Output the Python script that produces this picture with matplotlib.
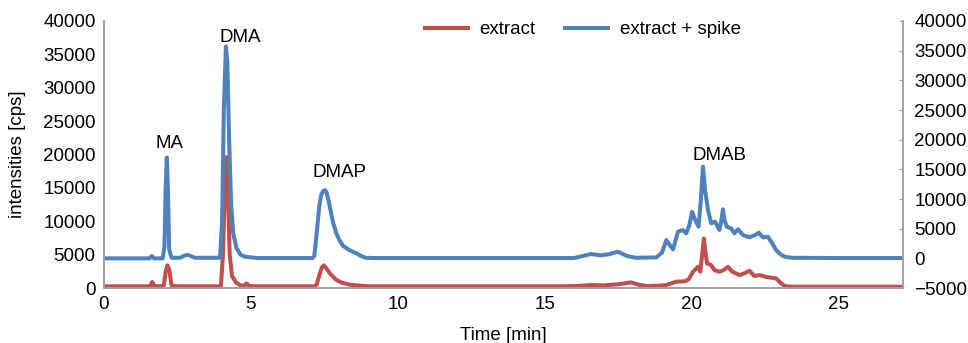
import matplotlib.pyplot as plt

plt.rcParams['font.family'] = ['Liberation Sans', 'DejaVu Sans']

# extract (left axis)
t_extract = [0, 1.5, 1.58, 1.64, 1.72, 1.9, 2.04, 2.1, 2.16, 2.22, 2.3, 2.45,
             3.98, 4.05, 4.12, 4.17, 4.22, 4.28, 4.36, 4.5, 4.65, 4.78, 4.85, 4.93, 5.1,
             7.15, 7.24, 7.35, 7.42, 7.48, 7.56, 7.69, 7.91, 8.1, 8.37, 9.0,
             12, 15.5, 16.1, 16.6, 17.0, 17.5, 17.94, 18.2, 18.46, 18.9, 19.14, 19.48,
             19.77, 19.9, 20.05, 20.22, 20.3, 20.36, 20.42, 20.47, 20.53, 20.67, 20.78,
             20.95, 21.1, 21.24, 21.39, 21.64, 21.8, 21.97, 22.14, 22.31, 22.5, 22.71,
             22.88, 23.05, 23.17, 23.4, 25, 27.2]
y_extract = [250, 250, 300, 900, 300, 250, 400, 2500, 3400, 2800, 400, 250,
             250, 5000, 16000, 19600, 14000, 5000, 1800, 800, 400, 350, 700, 350, 250,
             250, 500, 2200, 3100, 3400, 3000, 2200, 1200, 800, 500, 250,
             250, 250, 300, 450, 400, 550, 850, 500, 300, 350, 450, 950,
             1000, 1300, 2440, 3180, 2440, 5000, 7410, 5500, 3680, 3430, 2690,
             2440, 2700, 3180, 2440, 1940, 2200, 2590, 1790, 1940, 1700, 1540,
             1440, 700, 300, 200, 200, 200]

# extract + spike (right axis)
t_spike = [0, 1.55, 1.63, 1.7, 2.0, 2.06, 2.1, 2.14, 2.18, 2.22, 2.3, 2.6, 2.75, 2.85,
           2.95, 3.1, 3.95, 4.02, 4.08, 4.15, 4.2, 4.26, 4.33, 4.4, 4.51, 4.65, 4.8, 5.2,
           7.1, 7.16, 7.24, 7.33, 7.4, 7.47, 7.52, 7.57, 7.64, 7.72, 7.8, 7.91, 8.0,
           8.14, 8.35, 8.59, 8.75, 8.9, 9.2, 16.0, 16.3, 16.58, 16.9, 17.2, 17.49, 17.8,
           18.1, 18.8, 19.0, 19.14, 19.25, 19.37, 19.54, 19.7, 19.82, 19.92, 20.02, 20.12,
           20.24, 20.32, 20.39, 20.46, 20.56, 20.67, 20.8, 20.95, 21.02, 21.07, 21.12,
           21.2, 21.35, 21.46, 21.58, 21.75, 21.97, 22.15, 22.29, 22.43, 22.6, 22.75,
           22.88, 23.05, 23.17, 23.4, 25, 27.2]
y_spike = [0, 0, 400, 0, 0, 2000, 12000, 17000, 11000, 1500, 100, 100, 500, 560,
           400, 100, 100, 6000, 25000, 35700, 33000, 20000, 9000, 4200, 1740, 600, 280, 50,
           50, 400, 4200, 8800, 10800, 11400, 11500, 11200, 9900, 7900, 6000, 4220, 3200,
           2100, 1400, 850, 400, 100, 50, 50, 400, 730, 500, 700, 1120, 400,
           100, 150, 1000, 3090, 2300, 1520, 4490, 4775, 4220, 5500, 7860, 6500,
           5330, 10000, 15440, 11500, 8150, 5900, 6180, 4775, 6500, 8260, 6500,
           5330, 5060, 4220, 4890, 3930, 3540, 3900, 4320, 3540, 3650, 2500,
           1400, 600, 280, 100, 50, 50]

peak_names = ['MA', 'DMA', 'DMAP', 'DMAB']
peak_t = [2.24, 4.63, 8.03, 20.95]
peak_y = [21640, 37600, 17300, 19850]

red = '#C0504D'
blue = '#4F81BD'
grey = '#A0A0A0'
fs = 13.5

fig = plt.figure(figsize=(9.68, 3.43), dpi=100)
ax = fig.add_axes([0.1074, 0.1603, 0.8255, 0.7785])
ax2 = ax.twinx()

l1, = ax.plot(t_extract, y_extract, color=red, lw=2.9, label='extract', solid_joinstyle='round')
l2, = ax2.plot(t_spike, y_spike, color=blue, lw=2.9, label='extract + spike', solid_joinstyle='round')

ax.set_xlim(0, 27.2)
ax.set_ylim(0, 40000)
ax2.set_ylim(-5000, 40000)
ax.set_xticks([0, 5, 10, 15, 20, 25])
ax.set_yticks(range(0, 40001, 5000))
ax2.set_yticks(range(-5000, 40001, 5000))

for a in (ax, ax2):
    a.spines['top'].set_visible(False)
    for s in ('left', 'right', 'bottom'):
        a.spines[s].set_color(grey)
        a.spines[s].set_linewidth(1.2)
ax.tick_params(axis='both', length=0, labelsize=fs, pad=6)
ax2.tick_params(axis='y', direction='in', length=3, color=grey, labelsize=fs, pad=8)

ax.set_xlabel('Time [min]', fontsize=fs, labelpad=10)
ax.set_ylabel('intensities [cps]', fontsize=fs, labelpad=12)

for name, tx, ty in zip(peak_names, peak_t, peak_y):
    ax.text(tx, ty, name, fontsize=fs, ha='center', va='center')

fig.legend(handles=[l1, l2], loc='center', bbox_to_anchor=(0.602, 0.913), ncol=2,
           frameon=False, fontsize=fs, handlelength=2.3, columnspacing=1.6,
           handletextpad=0.6)

fig.savefig('out.png', dpi=100)
